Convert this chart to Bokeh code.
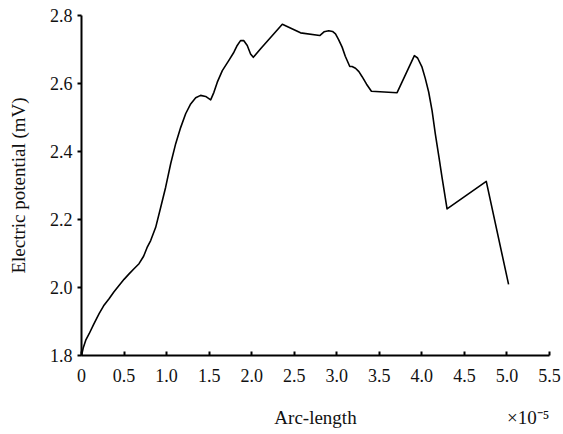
from bokeh.plotting import figure
from bokeh.models import FixedTicker, LinearAxis, Range1d
from bokeh.embed import file_html
from bokeh.resources import INLINE

# Electric potential along the arc-length (arc-length in units of 1e-5)
arc_length = [0, 0.02, 0.05, 0.09, 0.14, 0.207, 0.26, 0.324, 0.38, 0.441,
              0.5, 0.559, 0.62, 0.676, 0.73, 0.77, 0.813, 0.872, 0.931, 0.989,
              1.048, 1.107, 1.166, 1.224, 1.283, 1.342, 1.40, 1.459, 1.518, 1.556,
              1.596, 1.655, 1.732, 1.791, 1.83, 1.869, 1.908, 1.948, 1.987, 2.019,
              2.105, 2.36, 2.574, 2.80, 2.85, 2.906, 2.95, 2.985, 3.02, 3.063,
              3.10, 3.153, 3.18, 3.22, 3.26, 3.298, 3.35, 3.407, 3.709, 3.912,
              3.95, 4.002, 4.04, 4.08, 4.12, 4.158, 4.20, 4.237, 4.296, 4.757,
              5.019]
potential = [1.8, 1.822, 1.845, 1.864, 1.89, 1.923, 1.946, 1.967, 1.987, 2.006,
             2.024, 2.040, 2.056, 2.070, 2.092, 2.117, 2.138, 2.177, 2.236, 2.295,
             2.364, 2.423, 2.471, 2.511, 2.540, 2.558, 2.565, 2.562, 2.552, 2.574,
             2.604, 2.638, 2.668, 2.692, 2.712, 2.726, 2.726, 2.712, 2.687, 2.677,
             2.702, 2.774, 2.749, 2.741, 2.752, 2.755, 2.753, 2.746, 2.73, 2.707,
             2.68, 2.650, 2.65, 2.645, 2.635, 2.620, 2.598, 2.577, 2.573, 2.682,
             2.675, 2.648, 2.615, 2.575, 2.52, 2.452, 2.385, 2.324, 2.231, 2.312,
             2.009]

x_ticks = [0, 0.5, 1.0, 1.5, 2.0, 2.5, 3.0, 3.5, 4.0, 4.5, 5.0, 5.5]
x_tick_labels = ["0", "0.5", "1.0", "1.5", "2.0", "2.5", "3.0", "3.5", "4.0", "4.5", "5.0", "5.5"]
y_ticks = [1.8, 2.0, 2.2, 2.4, 2.6, 2.8]
y_tick_labels = ["1.8", "2.0", "2.2", "2.4", "2.6", "2.8"]

# Caption row under the x axis: title and scale factor, on one line
caption_pos = [2.75, 5.25]
caption_text = ["Arc-length", "×10⁻⁵"]

FONT = "Liberation Serif"
TEXT = "#111111"
TICK_SIZE = "18px"
LABEL_SIZE = "19px"

p = figure(width=563, height=434, output_backend="svg", toolbar_location=None,
           x_range=Range1d(0, 5.5), y_range=Range1d(1.8, 2.8),
           min_border_left=81, min_border_right=14, min_border_top=15,
           min_border_bottom=79)
p.outline_line_color = None
p.grid.visible = False
p.background_fill_color = "white"
p.border_fill_color = "white"

p.line(arc_length, potential, line_color="black", line_width=1.6,
       line_join="round")

xa = p.xaxis[0]
xa.ticker = FixedTicker(ticks=x_ticks)
xa.major_label_overrides = {t: l for t, l in zip(x_ticks, x_tick_labels)}
xa.major_tick_in = 4
xa.major_tick_out = 0
xa.minor_tick_line_color = None
xa.major_label_standoff = 13

ya = p.yaxis[0]
ya.ticker = FixedTicker(ticks=y_ticks)
ya.major_label_overrides = {t: l for t, l in zip(y_ticks, y_tick_labels)}
ya.major_tick_in = 0
ya.major_tick_out = 4
ya.minor_tick_line_color = None
ya.major_label_standoff = 5
ya.axis_label = "Electric potential (mV)"
ya.axis_label_standoff = 18

for ax in (xa, ya):
    ax.axis_line_width = 2
    ax.axis_line_color = "black"
    ax.major_tick_line_width = 2
    ax.major_tick_line_color = "black"
    ax.major_label_text_font = FONT
    ax.major_label_text_font_size = TICK_SIZE
    ax.major_label_text_color = TEXT
    ax.axis_label_text_font = FONT
    ax.axis_label_text_font_size = LABEL_SIZE
    ax.axis_label_text_font_style = "normal"
    ax.axis_label_text_color = TEXT

# Second, line-less axis below the first one carrying the caption row
cap = LinearAxis(ticker=FixedTicker(ticks=caption_pos),
                 major_label_overrides={t: l for t, l in zip(caption_pos, caption_text)})
cap.axis_line_color = None
cap.major_tick_line_color = None
cap.minor_tick_line_color = None
cap.major_tick_in = 0
cap.major_tick_out = 0
cap.major_label_standoff = 22
cap.major_label_text_font = FONT
cap.major_label_text_font_size = LABEL_SIZE
cap.major_label_text_color = TEXT
p.add_layout(cap, "below")

open("out.html", "w").write(file_html(p, INLINE))
